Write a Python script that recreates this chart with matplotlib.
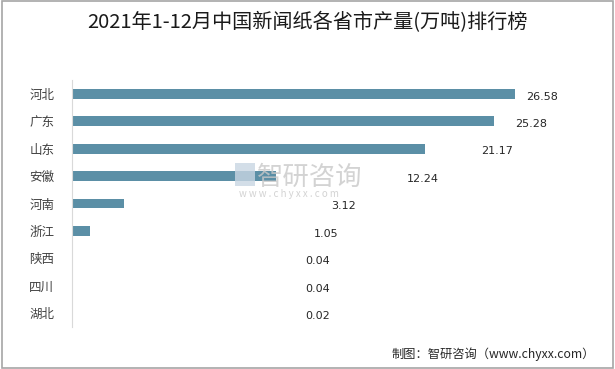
import matplotlib
matplotlib.use("Agg")
from matplotlib import pyplot as plt
from matplotlib.patches import Rectangle

plt.rcParams['font.family'] = ['Noto Sans CJK SC', 'DejaVu Sans']

# data
provinces = ['河北', '广东', '山东', '安徽', '河南', '浙江', '陕西', '四川', '湖北']
output = [26.58, 25.28, 21.17, 12.24, 3.12, 1.05, 0.04, 0.04, 0.02]

title = '2021年1-12月中国新闻纸各省市产量(万吨)排行榜'
source = '制图：智研咨询（www.chyxx.com）'

fig = plt.figure(figsize=(6.15, 3.69), dpi=100)
# outer grey frame
fig.patches.append(Rectangle((0.003, 0.003), 0.994, 0.994, transform=fig.transFigure,
                             fill=False, edgecolor='#a6a6a6', linewidth=1.2))

ax = fig.add_axes([0.1176, 0.114, 0.813, 0.669])
y = list(range(len(provinces)))
ax.barh(y, output, height=0.36, color='#5b8fa6')
ax.set_ylim(len(provinces) - 0.5, -0.5)
ax.set_xlim(0, 30)

# value labels sit halfway between the bar end and the right side of the plot
for i, v in enumerate(output):
    ax.text((v + 27.9) / 2, i + 0.1, f"{v:.2f}", va='center', ha='left',
            fontsize=8, color='#262626', family=['DejaVu Sans'])

ax.set_yticks(y)
ax.set_yticklabels(provinces, fontsize=9, color='#404040')
ax.tick_params(axis='y', length=0, pad=13)
ax.set_xticks([])
for s in ['top', 'right', 'bottom']:
    ax.spines[s].set_visible(False)
ax.spines['left'].set_color('#d9d9d9')

fig.text(0.5, 0.94, title, ha='center', va='center', fontsize=14.5,
         fontweight='medium', color='#1a1a1a')

# watermark
fig.text(0.418, 0.52, '智研咨询', ha='left', va='center', fontsize=19,
         color='#c8c8c8', alpha=0.8)
fig.text(0.388, 0.474, 'w w w . c h y x x . c o m', ha='left', va='center', fontsize=7,
         color='#c8c8c8', alpha=0.8)
fig.patches.append(Rectangle((0.382, 0.497), 0.033, 0.06, transform=fig.transFigure,
                             facecolor='#c9d6e3', edgecolor='none', alpha=0.8))

fig.text(0.968, 0.04, source, ha='right', va='center', fontsize=8.8, color='#262626')

plt.savefig('out.png', dpi=100)
